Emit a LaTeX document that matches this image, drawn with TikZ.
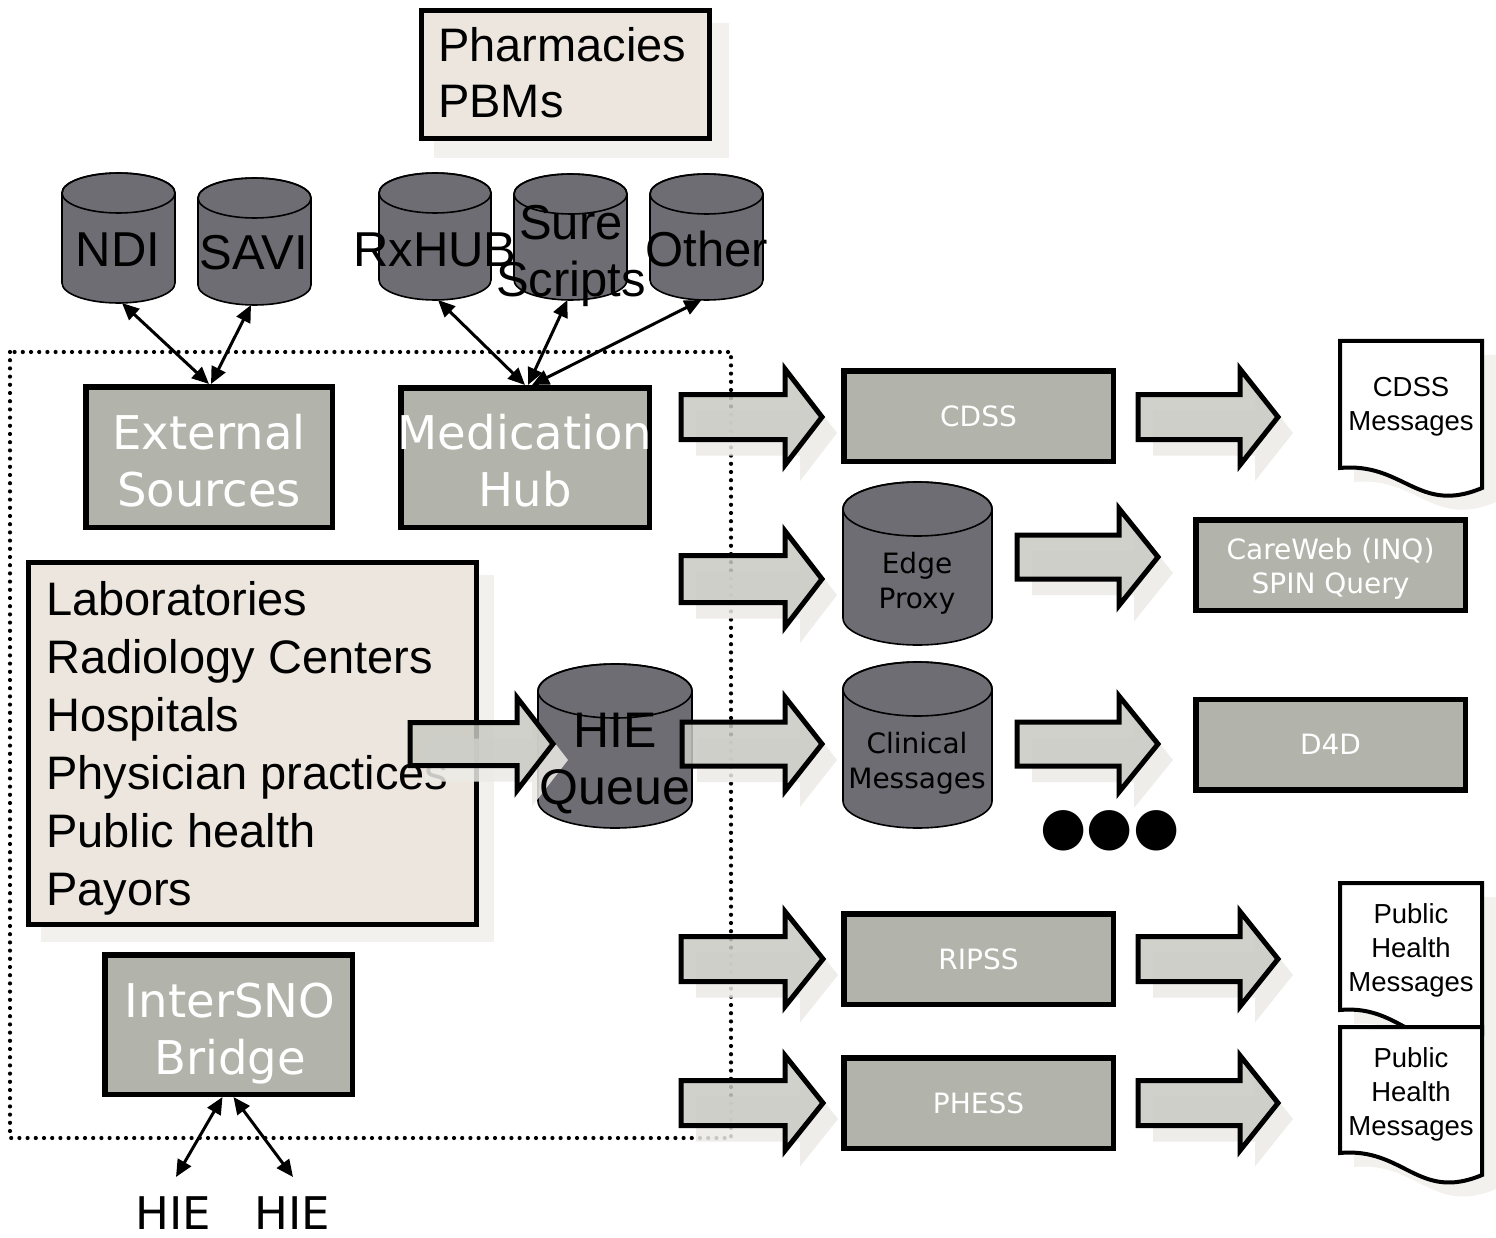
\documentclass[tikz,border=0pt]{standalone}
\usepackage{fontspec}
\setmainfont{Liberation Sans}
\newfontfamily\tah{DejaVu Sans}
\usetikzlibrary{arrows.meta}
\definecolor{boxgray}{RGB}{178,180,171}
\definecolor{cylgray}{RGB}{110,109,115}
\definecolor{beige}{RGB}{236,230,222}
\definecolor{shadowc}{RGB}{243,241,237}
\definecolor{arrowfill}{RGB}{201,202,196}
\definecolor{ashadow}{RGB}{236,235,230}

\newcommand\cylshape[5]{%
  \filldraw[cylbody] (#1-#4,#2+#5) -- (#1-#4,#3-#5)
    arc[start angle=180,end angle=0,x radius=#4,y radius=#5]
    -- (#1+#4,#2+#5)
    arc[start angle=0,end angle=-180,x radius=#4,y radius=#5] -- cycle;
  \draw[cylline] (#1,#2+#5) ellipse[x radius=#4,y radius=#5];
}
\newcommand\blockarrow[6]{%
  \begin{scope}[shift={(15,16)}]
    \fill[blkshadow] (#1,#4-#5) -- (#2,#4-#5) -- (#2,#4-#6) -- (#3,#4)
      -- (#2,#4+#6) -- (#2,#4+#5) -- (#1,#4+#5) -- cycle;
  \end{scope}
  \filldraw[blkarrow] (#1,#4-#5) -- (#2,#4-#5) -- (#2,#4-#6) -- (#3,#4)
      -- (#2,#4+#6) -- (#2,#4+#5) -- (#1,#4+#5) -- cycle;
}
\newcommand\docshape[5]{%
  \begin{scope}[shift={(14,14)}]
    \fill[shadowc] (#1,#3) -- (#2,#3) -- (#2,#5)
      .. controls ({#1+0.55*(#2-#1)},{#5+27}) and ({#1+0.45*(#2-#1)},{#4-6}) .. (#1,#4) -- cycle;
  \end{scope}
  \filldraw[docline] (#1,#3) -- (#2,#3) -- (#2,#5)
      .. controls ({#1+0.55*(#2-#1)},{#5+27}) and ({#1+0.45*(#2-#1)},{#4-6}) .. (#1,#4) -- cycle;
}

\begin{document}
\begin{tikzpicture}[x=1pt,y=-1pt,
  cylbody/.style={fill=cylgray, draw=black, line width=1.6pt},
  cylline/.style={draw=black, line width=1.6pt},
  anch/.style={inner sep=0pt, outer sep=0pt, draw=none},
  graybox/.style={draw=black, line width=5.5pt, fill=boxgray, inner sep=0pt, text=white,
     font=\tah\fontsize{28}{34}\selectfont, align=center},
  smallwhite/.style={inner sep=0pt, text=white, font=\tah\fontsize{28}{34}\selectfont, align=center},
  bigwhite/.style={inner sep=0pt, text=white, font=\tah\fontsize{46.5}{57}\selectfont, align=center},
  beigebox/.style={draw=black, line width=5pt, fill=beige, inner sep=0pt},
  blkarrow/.style={draw=black, line width=5pt, fill=arrowfill, fill opacity=0.85, line join=miter},
  blkshadow/.style={fill=ashadow, fill opacity=0.85},
  docline/.style={draw=black, line width=4pt, fill=white},
  doctext/.style={inner sep=0pt, font=\fontsize{27.5}{34}\selectfont, align=center},
  conn/.style={line width=3pt, {Triangle[length=17pt,width=15pt]}-{Triangle[length=17pt,width=15pt]}},
  dotframe/.style={line width=4.2pt, dash pattern=on 0pt off 8.2pt, line cap=round},
  cyltext/.style={inner sep=0pt, font=\fontsize{49}{57}\selectfont, align=center},
  cyltextsmall/.style={inner sep=0pt, font=\tah\fontsize{28}{35}\selectfont, align=center},
  listtext/.style={inner sep=0pt, align=left, anchor=west},
  hielabel/.style={inner sep=0pt, anchor=base, font=\tah\fontsize{45}{45}\selectfont}
]
\useasboundingbox (0,0) rectangle (1496,1238);
\fill[white] (0,0) rectangle (1496,1238);

% dotted frame
\draw[dotframe] (10,352) rectangle (731,1138);

% Pharmacies box
\fill[shadowc] (434,23) rectangle (729,158);
\node[beigebox, minimum width=288pt, minimum height=128pt] (pharm) at (565.5,74.5) {};
\node[listtext, font=\fontsize{47}{56}\selectfont] (pharmT) at (438,73) {Pharmacies\\PBMs};

% Lab box
\fill[shadowc] (41,575) rectangle (494,942);
\node[beigebox, minimum width=448pt, minimum height=362pt] (labs) at (252.5,743.5) {};
\node[listtext, font=\fontsize{47}{58}\selectfont] (labsT) at (46,748)
  {Laboratories\\Radiology Centers\\Hospitals\\Physician practices\\Public health\\Payors};

% cylinders
\cylshape{118.5}{173}{303}{56.5}{20}
\cylshape{254.5}{178}{305}{56.5}{20}
\cylshape{435}{173}{300}{56}{20}
\cylshape{570.5}{174}{300}{56.5}{20}
\cylshape{706.5}{174}{300}{56.5}{20}
\cylshape{615}{664}{828}{77}{27}
\cylshape{917.5}{482}{645}{74.5}{27}
\cylshape{917.5}{662}{828}{74.5}{27}
\node[anch, minimum width=113pt, minimum height=130pt] (ndi) at (118.5,238) {};
\node[anch, minimum width=113pt, minimum height=127pt] (savi) at (254.5,241.5) {};
\node[anch, minimum width=112pt, minimum height=127pt] (rx) at (435,236.5) {};
\node[anch, minimum width=113pt, minimum height=126pt] (sure) at (570.5,237) {};
\node[anch, minimum width=113pt, minimum height=126pt] (other) at (706.5,237) {};
\node[anch, minimum width=154pt, minimum height=164pt] (queue) at (615,746) {};
\node[anch, minimum width=149pt, minimum height=163pt] (edge) at (917.5,563.5) {};
\node[anch, minimum width=149pt, minimum height=166pt] (clin) at (917.5,745) {};

% gray boxes
\node[graybox, minimum width=246.5pt, minimum height=140.5pt] (ext) at (209,457) {};
\node[graybox, minimum width=248.5pt, minimum height=139.5pt] (med) at (525,457.5) {};
\node[graybox, minimum width=247.5pt, minimum height=139.5pt] (bridge) at (228.5,1024.5) {};
\node[bigwhite] (extT) at (209,461) {External\\Sources};
\node[bigwhite] (medT) at (525,461) {Medication\\Hub};
\node[bigwhite] (bridgeT) at (230,1034) {InterSNO\\Bridge};
\node[graybox, minimum width=269.5pt, minimum height=90.5pt] (cdss) at (978.5,416) {CDSS};
\node[graybox, minimum width=269.5pt, minimum height=90.5pt] (careweb) at (1330.5,565) {};
\node[smallwhite] (carewebT) at (1330.5,569) {CareWeb (INQ)\\SPIN Query};
\node[graybox, minimum width=269.5pt, minimum height=90.5pt] (d4d) at (1330.5,744.5) {D4D};
\node[graybox, minimum width=269.5pt, minimum height=90.5pt] (ripss) at (978.5,959) {RIPSS};
\node[graybox, minimum width=269.5pt, minimum height=90.5pt] (phess) at (978.5,1103) {PHESS};

% documents
\docshape{1340}{1482}{341}{468}{488}
\docshape{1340}{1482}{883}{1010}{1035}
\docshape{1340}{1482}{1027}{1153}{1175}
\node[doctext] (cdssmsg) at (1411,407) {CDSS\\Messages};
\node[doctext] (phmsg1) at (1411,950) {Public\\Health\\Messages};
\node[doctext] (phmsg2) at (1411,1094) {Public\\Health\\Messages};

% block arrows
\blockarrow{410}{517}{553}{744}{21.5}{46.5}
\blockarrow{682}{785}{822}{744}{22}{47}
\blockarrow{681}{785}{822}{417}{22.5}{48}
\blockarrow{1138}{1240}{1278}{417}{22.5}{48}
\blockarrow{681}{785}{822}{579}{23.5}{48}
\blockarrow{1017}{1119}{1158}{557}{22}{48.5}
\blockarrow{1017}{1119}{1158}{744}{22}{48}
\blockarrow{681}{785}{823}{959}{22.5}{47.5}
\blockarrow{1138}{1240}{1278}{959}{22.5}{47.5}
\blockarrow{681}{785}{823}{1103}{22.5}{47.5}
\blockarrow{1138}{1240}{1278}{1103}{22.5}{47.5}

% cylinder labels
\node[cyltext, anchor=base] (ndiT) at (118,267) {NDI};
\node[cyltext, anchor=base] (saviT) at (254,270) {SAVI};
\node[cyltext, anchor=base] (rxT) at (435,267) {RxHUB};
\node[cyltext] (sureT) at (571,255.5) {Sure\\Scripts};
\node[cyltext, anchor=base] (otherT) at (707,267) {Other};
\node[cyltext, font=\fontsize{50}{57}\selectfont] (queueT) at (615,764) {HIE\\Queue};
\node[cyltextsmall] (edgeT) at (917,583) {Edge\\Proxy};
\node[cyltextsmall] (clinT) at (917,763) {Clinical\\Messages};

% dots
\node[inner sep=0pt, font=\tah\fontsize{53}{53}\selectfont] (more) at (1110,831) {●●●};

% HIE labels
\node[hielabel] (hieL) at (173,1229) {HIE};
\node[hielabel] (hieR) at (292,1229) {HIE};

% connectors
\draw[conn] ([xshift=3.5pt]ndi.south) -- (ext.north);
\draw[conn] ([xshift=-3.5pt]savi.south) -- ([xshift=2pt]ext.north);
\draw[conn] ([xshift=3pt]rx.south) -- (med.north);
\draw[conn] ([xshift=-3pt]sure.south) -- ([xshift=3pt]med.north);
\draw[conn] ([xshift=-5pt]other.south) -- ([xshift=7pt]med.north);
\draw[conn] ([xshift=-6pt]bridge.south) -- ([xshift=3pt,yshift=19pt]hieL.north);
\draw[conn] ([xshift=5pt]bridge.south) -- ([xshift=1pt,yshift=19pt]hieR.north);
\end{tikzpicture}
\end{document}
